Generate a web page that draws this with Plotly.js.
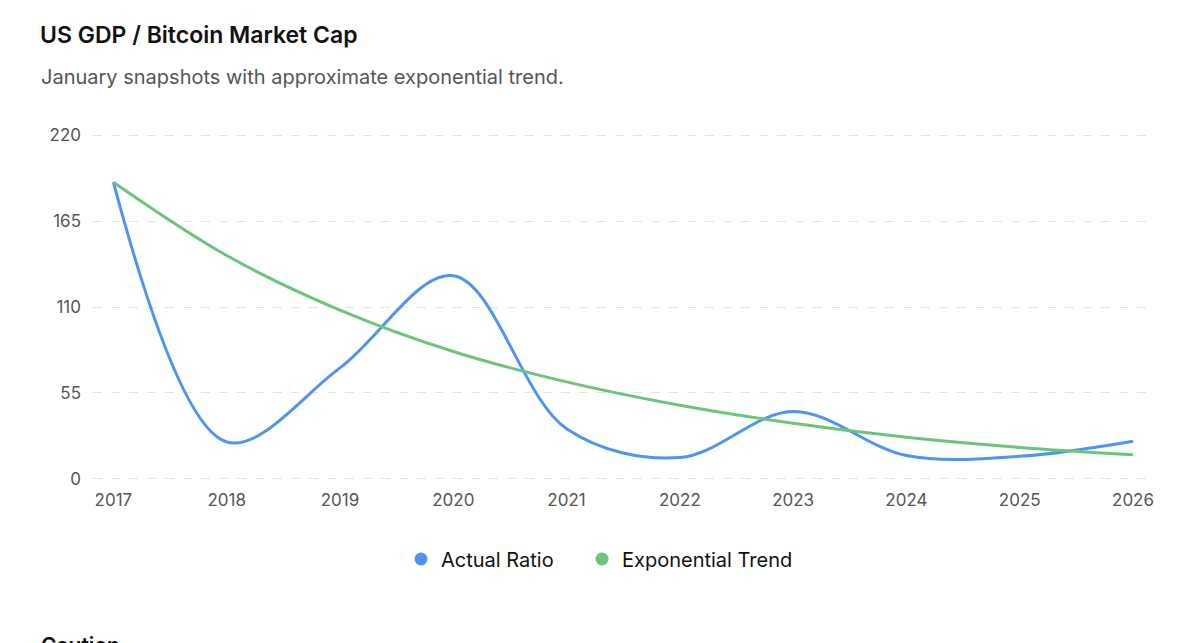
<!DOCTYPE html>
<html>
<head>
<meta charset="utf-8">
<script src="https://cdn.plot.ly/plotly-3.0.1.min.js"></script>
<style>
  html, body { margin: 0; padding: 0; background: #fff; overflow: hidden; }
  #chart { width: 1200px; height: 643px; }
  #caution { position: absolute; left: 41px; top: 633px; font-family: Inter, "Noto Sans", sans-serif; font-size: 21px; font-weight: 600; color: #111; }
</style>
</head>
<body>
<div id="chart"></div>
<div id="caution">Caution</div>
<script>
const years = [2017, 2018, 2019, 2020, 2021, 2022, 2023, 2024, 2025, 2026];
const actualRatio = [190, 23.5, 71, 130, 32, 13.5, 43, 14.8, 14.3, 24];
const exponentialTrend = [190, 143, 108, 81.5, 62, 47, 35.5, 26.5, 20, 15.3];
const yTicks = [0, 55, 110, 165, 220];
const seriesNames = ['Actual Ratio', 'Exponential Trend'];
const seriesColors = ['#4f94ef', '#6cc47d'];

const fontFamily = 'Inter, "Noto Sans", sans-serif';

const traces = [
  { x: years, y: actualRatio, name: seriesNames[0], mode: 'lines', type: 'scatter',
    line: { color: seriesColors[0], width: 3, shape: 'spline', smoothing: 1 }, showlegend: false },
  { x: years, y: exponentialTrend, name: seriesNames[1], mode: 'lines', type: 'scatter',
    line: { color: seriesColors[1], width: 3, shape: 'spline', smoothing: 1 }, showlegend: false },
  { x: [null], y: [null], name: seriesNames[0], mode: 'markers', type: 'scatter', legend: 'legend',
    marker: { color: seriesColors[0], size: 13, symbol: 'circle' }, hoverinfo: 'skip' },
  { x: [null], y: [null], name: seriesNames[1], mode: 'markers', type: 'scatter', legend: 'legend2',
    marker: { color: seriesColors[1], size: 13, symbol: 'circle' }, hoverinfo: 'skip' }
];

const plotW = 1200 - 93 - 50;
const plotH = 643 - 133 - 162;

const legendBase = {
  orientation: 'h', xref: 'container', yref: 'container',
  xanchor: 'left', y: 1 - 559 / 643, yanchor: 'middle',
  font: { family: fontFamily, size: 20, color: '#111' },
  itemwidth: 30, itemclick: false, itemdoubleclick: false, bgcolor: 'rgba(0,0,0,0)'
};

const layout = {
  width: 1200, height: 643,
  paper_bgcolor: '#ffffff', plot_bgcolor: '#ffffff',
  font: { family: fontFamily, color: '#555' },
  margin: { l: 93, r: 50, t: 133, b: 162 },
  title: {
    text: 'US GDP / Bitcoin Market Cap',
    font: { family: fontFamily, size: 23, weight: 600, color: '#111' },
    xref: 'container', yref: 'container', x: 40 / 1200, xanchor: 'left',
    y: 1 - 35 / 643, yanchor: 'middle'
  },
  annotations: [{
    text: 'January snapshots with approximate exponential trend.',
    xref: 'paper', yref: 'paper', showarrow: false, borderpad: 0,
    x: (40 - 93) / plotW, xanchor: 'left', y: 1 + (133 - 77) / plotH, yanchor: 'middle',
    font: { family: fontFamily, size: 20, color: '#555' }
  }],
  xaxis: {
    range: [2016.82, 2026.15],
    tickvals: years, ticktext: years.map(String),
    showgrid: false, zeroline: false, showline: false, ticks: '',
    tickfont: { family: fontFamily, size: 17, color: '#555' },
    ticklabelstandoff: 7
  },
  yaxis: {
    range: [-1.5, 221.5],
    tickvals: yTicks, ticktext: yTicks.map(String),
    showgrid: true, gridcolor: '#e3e3e3', griddash: 'dash', gridwidth: 1,
    zeroline: false, showline: false, ticks: '',
    tickfont: { family: fontFamily, size: 17, color: '#555' },
    ticklabelstandoff: 11
  },
  showlegend: true,
  legend: Object.assign({}, legendBase, { x: 401 / 1200 }),
  legend2: Object.assign({}, legendBase, { x: 582 / 1200 })
};

Plotly.newPlot('chart', traces, layout, { displayModeBar: false, staticPlot: true });
</script>
</body>
</html>
